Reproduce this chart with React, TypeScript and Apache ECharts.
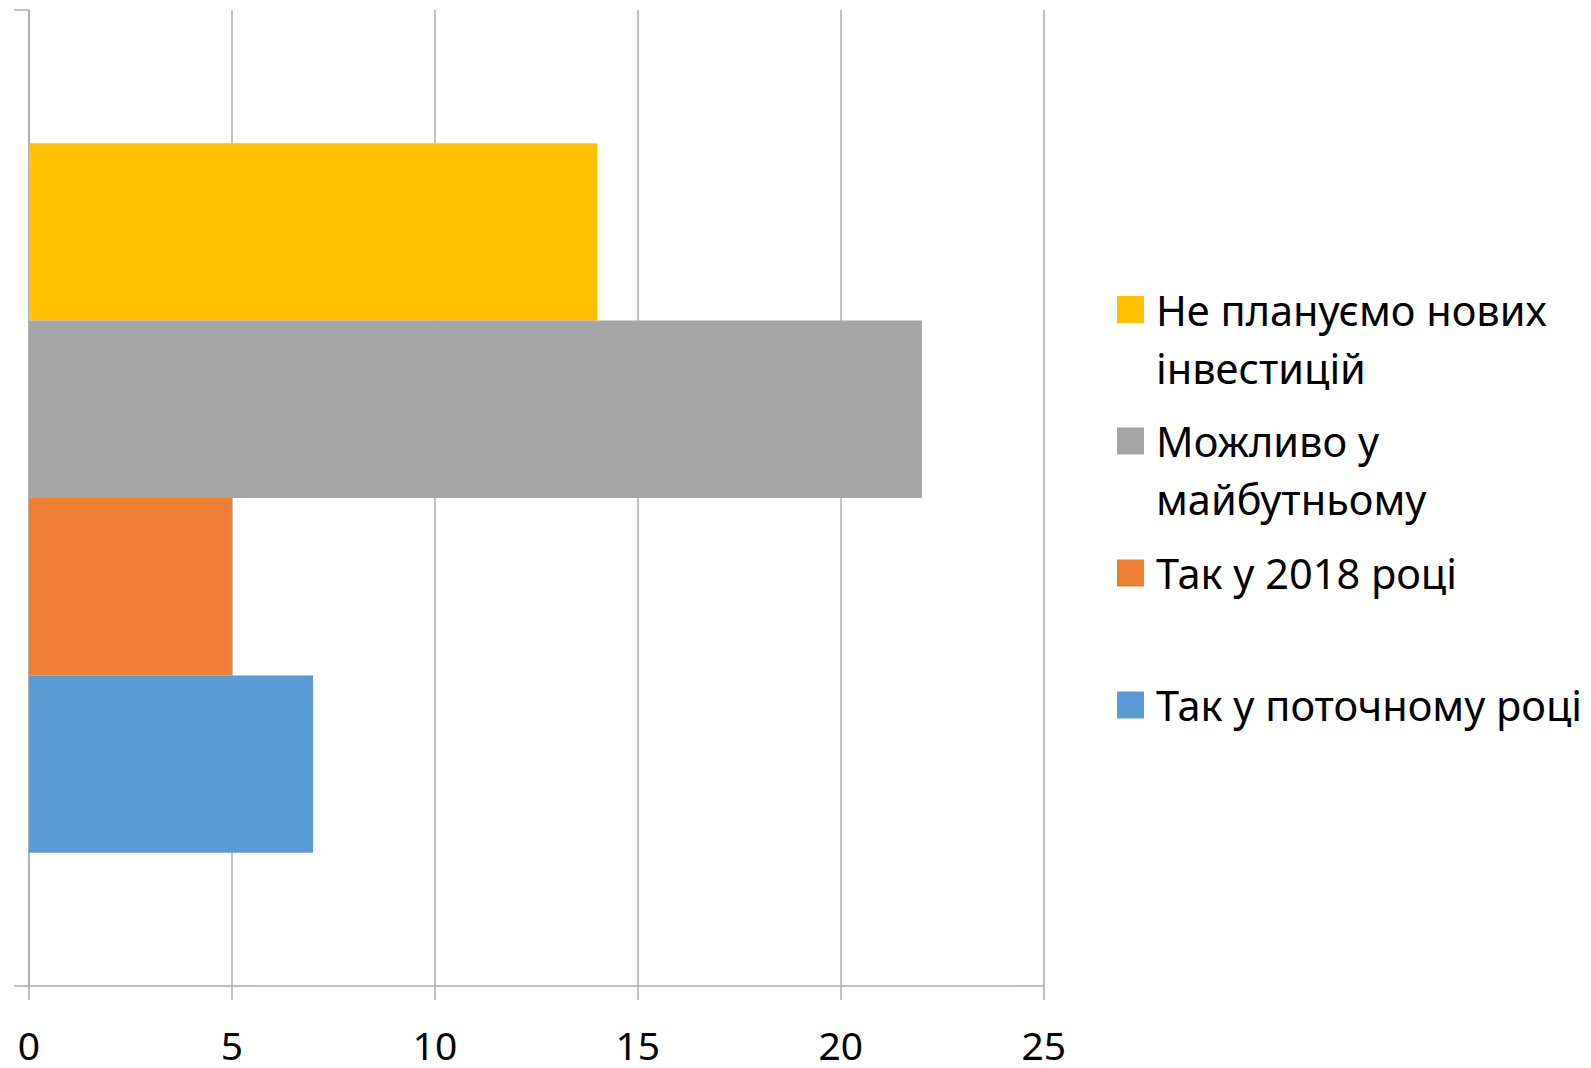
import React, { useEffect, useRef } from "react";
import * as echarts from "echarts";

const categories = [""];
const seriesNames = [
  "Не плануємо нових інвестицій",
  "Можливо у майбутньому",
  "Так у 2018 році",
  "Так у поточному році",
];
const legendLabels = [
  "Не плануємо нових\nінвестицій",
  "Можливо у\nмайбутньому",
  "Так у 2018 році",
  "Так у поточному році",
];
const seriesValues = [14, 22, 5, 7];
const seriesColors = ["#FFC000", "#A5A5A5", "#ED7D31", "#5B9BD5"];
const xMin = 0;
const xMax = 25;
const xInterval = 5;

// layout: vertical centre of each legend marker (px)
const legendMarkerCentres = [309.5, 441, 573, 705];
const FONT = "Noto Sans";
const LEGEND_FONT = 41.5;
const LINE_H = 58;
const LINE_COLOR = "#ababab";

export default function App() {
  const ref = useRef<HTMLDivElement>(null);
  useEffect(() => {
    if (!ref.current) return;
    const chart = echarts.init(ref.current, undefined, { renderer: "svg" });
    const legends = seriesNames.map((name, i) => {
      const lines = legendLabels[i].split("\n");
      const twoLine = lines.length > 1;
      // for wrapped labels, pad with a blank first line so the marker sits on the first text line
      const text = twoLine ? " \n" + legendLabels[i] : legendLabels[i];
      const top = legendMarkerCentres[i] - (twoLine ? LINE_H * 1.5 : LINE_H / 2);
      return {
        show: true,
        orient: "vertical",
        left: 1117,
        top,
        padding: 0,
        itemWidth: 27,
        itemHeight: 27,
        icon: "rect",
        data: [name],
        formatter: () => text,
        selectedMode: false,
        textStyle: {
          fontFamily: FONT,
          fontSize: LEGEND_FONT,
          color: "#000",
          lineHeight: LINE_H,
          padding: [0, 0, 0, 7],
        },
      };
    });
    chart.setOption({
      animation: false,
      backgroundColor: "#fff",
      legend: legends,
      grid: { left: 29, top: 10, width: 1014.7, height: 976, containLabel: false },
      xAxis: {
        type: "value",
        min: xMin,
        max: xMax,
        interval: xInterval,
        axisLine: { show: true, lineStyle: { color: LINE_COLOR, width: 1.5 } },
        axisTick: { show: true, length: 14, lineStyle: { color: LINE_COLOR, width: 1.5 } },
        splitLine: { show: true, lineStyle: { color: LINE_COLOR, width: 1.5 } },
        axisLabel: {
          fontFamily: FONT,
          fontSize: 39,
          lineHeight: 32,
          color: "#000",
          margin: 58,
          verticalAlign: "middle",
        },
      },
      yAxis: {
        type: "category",
        data: categories,
        axisLine: { show: true, lineStyle: { color: LINE_COLOR, width: 1.5 } },
        axisTick: { show: true, length: 15, lineStyle: { color: LINE_COLOR, width: 1.5 } },
        axisLabel: { show: false },
        splitLine: { show: false },
      },
      series: seriesNames.map((name, i) => ({
        name,
        type: "bar",
        data: [seriesValues[i]],
        itemStyle: { color: seriesColors[i] },
        barGap: "0%",
        barCategoryGap: "27.3%",
      })),
    });
    return () => chart.dispose();
  }, []);
  return <div ref={ref} style={{ width: 1591, height: 1068, position: "absolute", left: 0, top: 0 }} />;
}
